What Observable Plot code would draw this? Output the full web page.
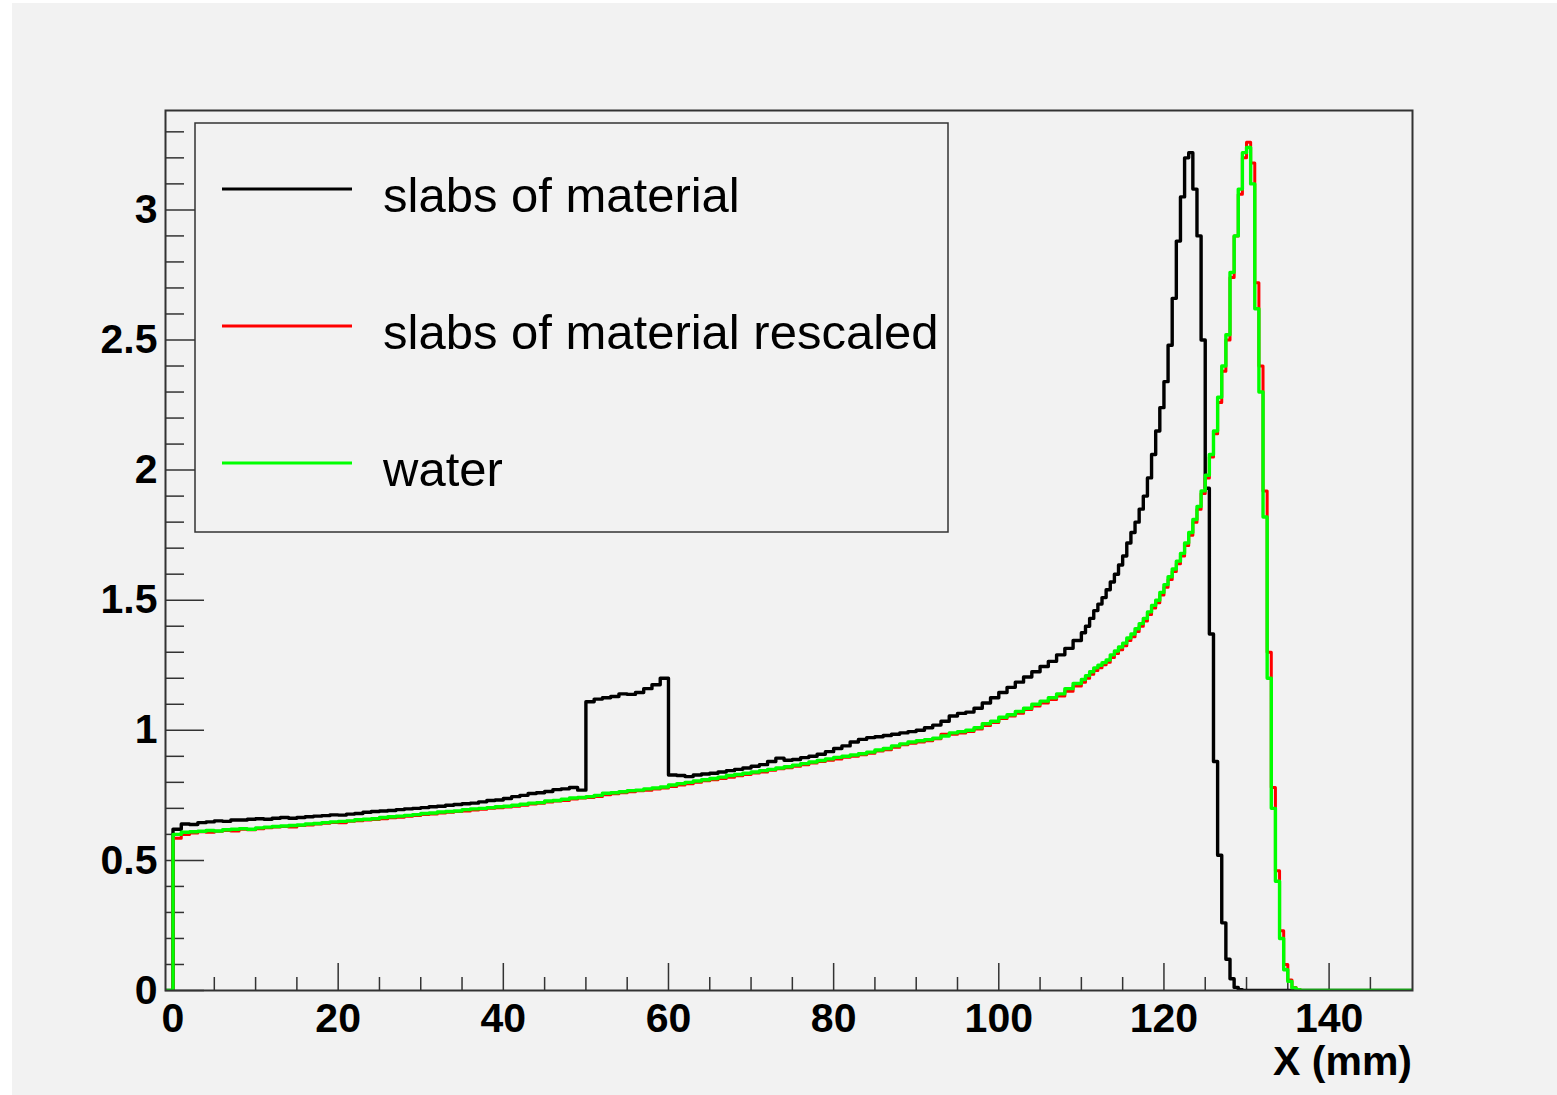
<!DOCTYPE html>
<html>
<head>
<meta charset="utf-8">
<script src="https://cdn.jsdelivr.net/npm/d3@7"></script>
<script src="https://cdn.jsdelivr.net/npm/@observablehq/plot@0.6"></script>
<style>
  body { margin: 0; background: #ffffff; }
  #wrap { position: relative; width: 1557px; height: 1095px; overflow: hidden; }
  #bg { position: absolute; left: 12px; top: 3px; right: 0; bottom: 0; background: #f2f2f2; }
  #chart { position: absolute; left: 0; top: 0; }
  #overlay { position: absolute; left: 0; top: 0; }
</style>
</head>
<body>
<div id="wrap">
  <div id="bg"></div>
  <div id="chart"></div>
  <svg id="overlay" width="1557" height="1095"></svg>
</div>
<script>
// ---------------- DATA ----------------
const seriesNames = ["slabs of material", "slabs of material rescaled", "water"];
const seriesColors = ["#000000", "#ff0000", "#00ff00"];

// histogram bin left edges (mm): 1 mm bins, 0.5 mm bins around the peaks, 1 mm tail
const binStarts = [...d3.range(-1, 110, 1), ...d3.range(110, 138, 0.5), ...d3.range(138, 151, 1)];

// slabs of material (black), bins -1 .. 109
const slabsCoarse = [
  0, 0.62, 0.64, 0.638, 0.645, 0.648, 0.652, 0.65, 0.655, 0.655,
  0.658, 0.66, 0.658, 0.662, 0.665, 0.662, 0.665, 0.668, 0.67, 0.672,
  0.675, 0.674, 0.678, 0.68, 0.685, 0.688, 0.69, 0.692, 0.695, 0.698,
  0.7, 0.703, 0.706, 0.708, 0.712, 0.715, 0.718, 0.72, 0.725, 0.73,
  0.732, 0.738, 0.745, 0.75, 0.757, 0.76, 0.765, 0.772, 0.775, 0.78,
  0.77, 1.11, 1.12, 1.125, 1.13, 1.14, 1.138, 1.145, 1.16, 1.175,
  1.2, 0.828, 0.826, 0.822, 0.828, 0.832, 0.835, 0.84, 0.845, 0.85,
  0.855, 0.862, 0.868, 0.88, 0.893, 0.885, 0.888, 0.895, 0.9, 0.908,
  0.918, 0.93, 0.94, 0.955, 0.965, 0.972, 0.975, 0.98, 0.985, 0.99,
  0.995, 1.0, 1.01, 1.02, 1.035, 1.055, 1.065, 1.07, 1.085, 1.105,
  1.125, 1.145, 1.165, 1.185, 1.205, 1.225, 1.245, 1.265, 1.29, 1.315,
  1.345
];
// bins 110 .. 137.5 (0.5 mm)
const slabsFine = [
  1.375, 1.4, 1.43, 1.46, 1.485, 1.51, 1.54, 1.57, 1.6, 1.635,
  1.67, 1.72, 1.76, 1.8, 1.85, 1.9, 1.97, 2.06, 2.15, 2.24,
  2.34, 2.48, 2.66, 2.88, 3.05, 3.2, 3.22, 3.08, 2.9, 2.5,
  1.93, 1.37, 0.88, 0.52, 0.26, 0.12, 0.045, 0.012, 0.003, 0,
  0, 0, 0, 0, 0, 0, 0, 0, 0, 0,
  0, 0, 0, 0, 0, 0
];
const slabsTail = [0, 0, 0, 0, 0, 0, 0, 0, 0, 0, 0, 0, 0];

// slabs of material rescaled (red)
const rescaledCoarse = [
  0, 0.585, 0.6, 0.605, 0.61, 0.608, 0.612, 0.615, 0.613, 0.62,
  0.618, 0.622, 0.625, 0.628, 0.63, 0.628, 0.634, 0.636, 0.64, 0.643,
  0.646, 0.645, 0.65, 0.652, 0.655, 0.657, 0.66, 0.664, 0.666, 0.67,
  0.673, 0.676, 0.678, 0.682, 0.685, 0.688, 0.69, 0.694, 0.697, 0.7,
  0.702, 0.705, 0.708, 0.712, 0.717, 0.72, 0.724, 0.728, 0.73, 0.736,
  0.74, 0.742, 0.746, 0.752, 0.756, 0.76, 0.764, 0.768, 0.77, 0.774,
  0.778, 0.784, 0.79, 0.795, 0.8, 0.806, 0.81, 0.815, 0.82, 0.825,
  0.83, 0.836, 0.84, 0.846, 0.852, 0.856, 0.862, 0.868, 0.874, 0.88,
  0.885, 0.89, 0.896, 0.9, 0.906, 0.912, 0.92, 0.925, 0.935, 0.944,
  0.95, 0.955, 0.96, 0.968, 0.985, 0.985, 0.99, 0.995, 1.005, 1.018,
  1.03, 1.045, 1.055, 1.066, 1.08, 1.093, 1.105, 1.118, 1.132, 1.15,
  1.17
];
const rescaledFine = [
  1.185, 1.2, 1.215, 1.23, 1.24, 1.252, 1.262, 1.28, 1.295, 1.31,
  1.325, 1.345, 1.36, 1.38, 1.4, 1.42, 1.445, 1.47, 1.49, 1.52,
  1.55, 1.58, 1.61, 1.64, 1.67, 1.71, 1.75, 1.8, 1.85, 1.91,
  1.97, 2.05, 2.14, 2.26, 2.38, 2.5, 2.74, 2.9, 3.06, 3.2,
  3.26, 3.18, 2.72, 2.4, 1.92, 1.3, 0.78, 0.46, 0.23, 0.1,
  0.04, 0.012, 0.004, 0, 0, 0
];
const rescaledTail = [0, 0, 0, 0, 0, 0, 0, 0, 0, 0, 0, 0, 0];

// water (green)
const waterCoarse = [
  0, 0.6, 0.608, 0.61, 0.612, 0.615, 0.613, 0.618, 0.62, 0.622,
  0.62, 0.625, 0.628, 0.63, 0.632, 0.634, 0.636, 0.64, 0.642, 0.645,
  0.648, 0.65, 0.652, 0.656, 0.658, 0.66, 0.665, 0.668, 0.67, 0.673,
  0.676, 0.68, 0.682, 0.686, 0.688, 0.69, 0.695, 0.698, 0.7, 0.703,
  0.706, 0.708, 0.712, 0.716, 0.72, 0.722, 0.728, 0.73, 0.735, 0.74,
  0.742, 0.745, 0.75, 0.758, 0.76, 0.764, 0.768, 0.77, 0.775, 0.778,
  0.782, 0.79, 0.795, 0.8, 0.805, 0.81, 0.815, 0.82, 0.826, 0.83,
  0.835, 0.84, 0.845, 0.85, 0.855, 0.86, 0.866, 0.872, 0.878, 0.884,
  0.89, 0.896, 0.9, 0.905, 0.91, 0.916, 0.924, 0.93, 0.94, 0.948,
  0.955, 0.96, 0.964, 0.97, 0.978, 0.99, 0.995, 1.0, 1.01, 1.025,
  1.035, 1.05, 1.06, 1.072, 1.085, 1.1, 1.112, 1.125, 1.14, 1.16,
  1.18
];
const waterFine = [
  1.195, 1.21, 1.225, 1.24, 1.25, 1.26, 1.27, 1.29, 1.305, 1.32,
  1.335, 1.355, 1.37, 1.39, 1.41, 1.43, 1.455, 1.48, 1.5, 1.53,
  1.56, 1.59, 1.62, 1.65, 1.68, 1.72, 1.76, 1.81, 1.86, 1.92,
  1.98, 2.06, 2.15, 2.28, 2.4, 2.52, 2.76, 2.9, 3.08, 3.22,
  3.24, 3.1, 2.62, 2.3, 1.82, 1.2, 0.7, 0.42, 0.2, 0.08,
  0.035, 0.01, 0.003, 0, 0, 0
];
const waterTail = [0, 0, 0, 0, 0, 0, 0, 0, 0, 0, 0, 0, 0];

const seriesValues = [
  [...slabsCoarse, ...slabsFine, ...slabsTail],
  [...rescaledCoarse, ...rescaledFine, ...rescaledTail],
  [...waterCoarse, ...waterFine, ...waterTail]
];

// axis ticks
const xMajor = [0, 20, 40, 60, 80, 100, 120, 140];
const xMinor = [5, 10, 15, 25, 30, 35, 45, 50, 55, 65, 70, 75, 85, 90, 95, 105, 110, 115, 125, 130, 135, 145];
const yMajor = [0, 0.5, 1, 1.5, 2, 2.5, 3];
const yMajorLabels = ["0", "0.5", "1", "1.5", "2", "2.5", "3"];
const yMinor = [0.1, 0.2, 0.3, 0.4, 0.6, 0.7, 0.8, 0.9, 1.1, 1.2, 1.3, 1.4, 1.6, 1.7, 1.8, 1.9,
                2.1, 2.2, 2.3, 2.4, 2.6, 2.7, 2.8, 2.9, 3.1, 3.2, 3.3];
const xTitle = "X (mm)";
const xDomain = [-0.91, 150.1];
const yDomain = [0, 3.382];

// ---------------- CHART ----------------
const W = 1557, H = 1095, mL = 165, mR = 145, mT = 110, mB = 105;
const fw = W - mL - mR, fh = H - mT - mB;
const axisColor = "#333333";

const tables = seriesNames.map((name, i) =>
  binStarts.map((x, j) => ({series: name, x, y: seriesValues[i][j]})));

const chart = Plot.plot({
  width: W, height: H,
  marginLeft: mL, marginRight: mR, marginTop: mT, marginBottom: mB,
  style: "background: transparent; color: #000; font-family: 'Liberation Sans', Arial, sans-serif; font-size: 41px; font-weight: bold;",
  x: {domain: xDomain, label: null},
  y: {domain: yDomain, label: null},
  marks: [
    Plot.tickY(yMinor, {y: d => d, insetRight: fw - 19, stroke: axisColor, strokeWidth: 1.5}),
    Plot.tickY(yMajor, {y: d => d, insetRight: fw - 39, stroke: axisColor, strokeWidth: 1.5}),
    Plot.tickX(xMinor, {x: d => d, insetTop: fh - 13, stroke: axisColor, strokeWidth: 1.5}),
    Plot.tickX(xMajor, {x: d => d, insetTop: fh - 27, stroke: axisColor, strokeWidth: 1.5}),
    ...tables.map((t, i) => Plot.line(t, {
      x: "x", y: "y", curve: "step-after", stroke: seriesColors[i],
      strokeWidth: i === 1 ? 3 : 3.4, clip: true
    })),
    Plot.frame({stroke: axisColor, strokeWidth: 2}),
    Plot.axisY(yMajor, {tickSize: 0, tickPadding: 8, fontSize: 41, fontWeight: "bold", label: null,
      tickFormat: d => yMajorLabels[yMajor.indexOf(d)]}),
    Plot.axisX(xMajor, {tickSize: 0, tickPadding: 12, fontSize: 41, fontWeight: "bold", label: null,
      tickFormat: d => String(d)})
  ]
});
document.getElementById("chart").appendChild(chart);

// ---------------- LEGEND & AXIS TITLE ----------------
const ov = d3.select("#overlay");
ov.append("rect")
  .attr("x", 195).attr("y", 123).attr("width", 753).attr("height", 409)
  .attr("fill", "#f2f2f2").attr("stroke", axisColor).attr("stroke-width", 1.5);
const legendY = [189, 326, 463];
seriesNames.forEach((name, i) => {
  ov.append("line")
    .attr("x1", 222).attr("x2", 352).attr("y1", legendY[i]).attr("y2", legendY[i])
    .attr("stroke", seriesColors[i]).attr("stroke-width", 3);
  ov.append("text")
    .attr("x", 383).attr("y", legendY[i] + 23)
    .attr("font-family", "'Liberation Sans', Arial, sans-serif")
    .attr("font-size", 49).attr("fill", "#000")
    .text(name);
});
ov.append("text")
  .attr("x", 1412).attr("y", 1075).attr("text-anchor", "end")
  .attr("font-family", "'Liberation Sans', Arial, sans-serif")
  .attr("font-size", 41).attr("font-weight", "bold").attr("fill", "#000")
  .text(xTitle);
</script>
</body>
</html>
